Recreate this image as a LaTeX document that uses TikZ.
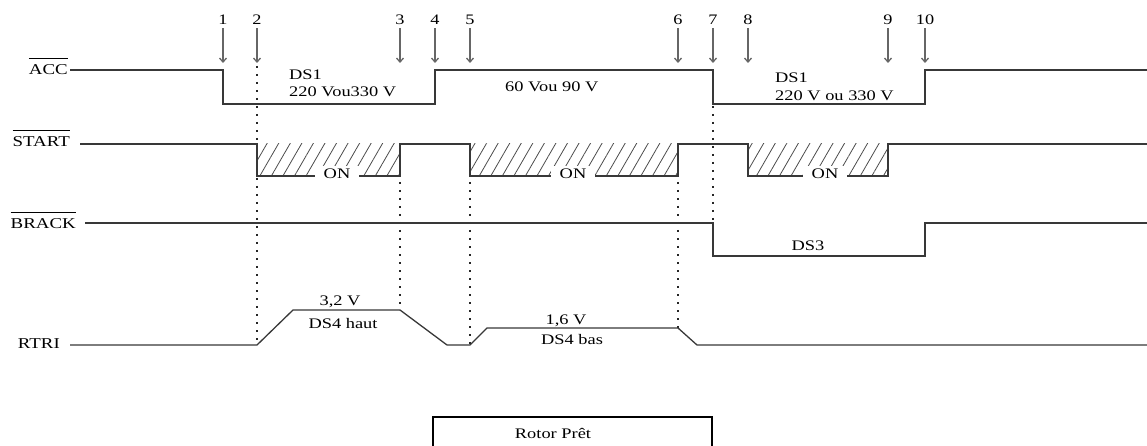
\documentclass[tikz,border=0pt]{standalone}
\usepackage{fontspec}
\setmainfont[FakeStretch=1.26]{Liberation Serif}
\usetikzlibrary{arrows.meta,patterns.meta}
\newcommand{\myovl}[1]{\vbox{\hrule height 1.1pt\kern 5.8pt\hbox{#1}}}
\begin{document}
\begin{tikzpicture}[x=1pt,y=-1pt,
  sig/.style={draw=black!78, line width=1.3pt, line join=miter},
  dotv/.style={draw=black!85, line width=1.3pt, dash pattern=on 1.8pt off 6.2pt},
  arr/.style={draw=black!60, line width=1.3pt, -{Straight Barb[length=4pt,width=7pt]}},
  lbl/.style={inner sep=0pt, font=\fontsize{15}{17}\selectfont},
  txt/.style={inner sep=0pt, font=\fontsize{14.6}{17}\selectfont},
  num/.style={inner sep=0pt, anchor=base, font=\fontsize{14.5}{16}\selectfont},
  hatch/.style={pattern={Lines[angle=60,distance=10pt,line width=0.8pt]}, pattern color=black!70},
  onlbl/.style={txt, anchor=base, fill=white, inner xsep=9pt, inner ysep=3pt},
]
\useasboundingbox (0,0) rectangle (1147,446);

% signal labels
\node[lbl, anchor=base east] (lacc)   at (68,75)  {\myovl{ACC}};
\node[lbl, anchor=base east] (lstart) at (70,147) {\myovl{START}};
\node[lbl, anchor=base east] (lbrack) at (76,229) {\myovl{BRACK}};
\node[lbl, anchor=base east] (lrtri)  at (60,348) {RTRI};

% event numbers and arrows
\foreach \i/\x in {1/223,2/257,3/400,4/435,5/470,6/678,7/713,8/748,9/888,10/925}{
  \node[num] (n\i) at (\x,25) {\i};
  \coordinate (t\i) at (\x,63);
  \draw[arr, shorten <=3pt] (n\i.south) -- (t\i);
}

% hatched ON zones
\fill[hatch] (257,144) rectangle (400,176);
\fill[hatch] (470,144) rectangle (678,176);
\fill[hatch] (748,144) rectangle (888,176);

% dotted guides
\draw[dotv] (257,66) -- (257,345);
\draw[dotv] (400,182) -- (400,310);
\draw[dotv] (470,182) -- (470,345);
\draw[dotv] (678,182) -- (678,328);
\draw[dotv] (713,106) -- (713,223);

% ACC
\draw[sig] (70,70) -- (223,70) -- (223,104) -- (435,104) -- (435,70) -- (713,70)
  -- (713,104) -- (925,104) -- (925,70) -- (1147,70);
% START
\draw[sig] (80,144) -- (257,144) -- (257,176) -- (400,176) -- (400,144) -- (470,144)
  -- (470,176) -- (678,176) -- (678,144) -- (748,144) -- (748,176) -- (888,176)
  -- (888,144) -- (1147,144);
% BRACK
\draw[sig] (85,223) -- (713,223) -- (713,256) -- (925,256) -- (925,223) -- (1147,223);
% RTRI
\draw[sig] (70,345) -- (257,345) -- (293,310) -- (400,310) -- (447,345) -- (470,345)
  -- (487,328) -- (678,328) -- (697,345) -- (1147,345);

% ON labels
\node[onlbl] (on1) at (337,179) {ON};
\node[onlbl] (on2) at (573,179) {ON};
\node[onlbl] (on3) at (825,179) {ON};

% ACC texts
\node[txt, anchor=base west] (ds1a) at (289,80) {DS1};
\node[txt, anchor=base west] (va)   at (289,97) {220 Vou330 V};
\node[txt, anchor=base west] (vb)   at (505,92) {60 Vou 90 V};
\node[txt, anchor=base west] (ds1b) at (775,83) {DS1};
\node[txt, anchor=base west] (vc)   at (775,101) {220 V ou 330 V};

% BRACK text
\node[txt, anchor=base] (ds3) at (808,250) {DS3};

% RTRI texts
\node[txt, anchor=base] (v32)  at (340,305) {3,2 V};
\node[txt, anchor=base] (ds4h) at (343,328) {DS4 haut};
\node[txt, anchor=base] (v16)  at (566,324) {1,6 V};
\node[txt, anchor=base] (ds4b) at (572,344) {DS4 bas};

% Rotor Pret box
\draw[draw=black, line width=1.3pt] (433,450) -- (433,417) -- (712,417) -- (712,450);
\node[txt, anchor=base] (rotor) at (553,438) {Rotor Prêt};
\end{tikzpicture}
\end{document}
